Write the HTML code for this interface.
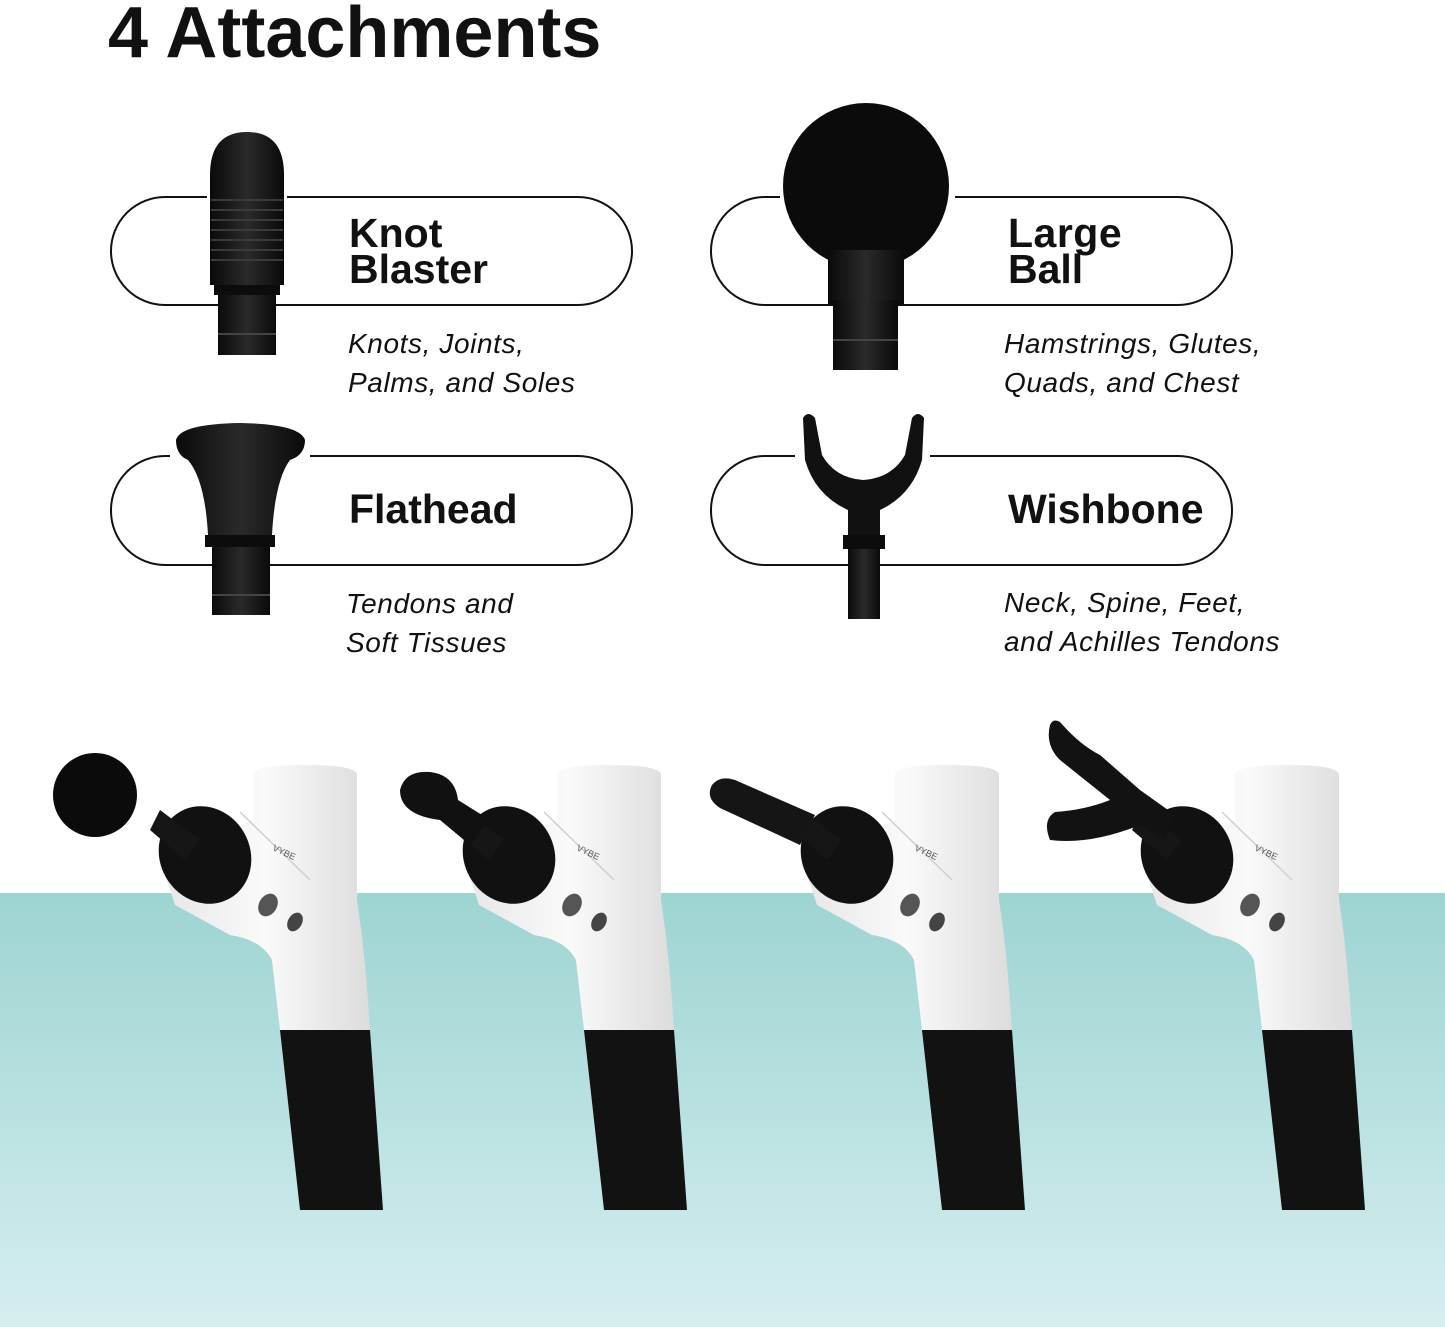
<!DOCTYPE html>
<html><head><meta charset="utf-8"><style>
html,body{margin:0;padding:0;background:#fff;}
svg{display:block}
.t{font-family:"Liberation Sans",sans-serif;font-weight:bold;fill:#111}
.i{font-family:"Liberation Sans",sans-serif;font-style:italic;fill:#111;font-size:28px;letter-spacing:0.6px}
</style></head><body>
<svg width="1445" height="1327" viewBox="0 0 1445 1327" xmlns="http://www.w3.org/2000/svg">
<defs>
<linearGradient id="teal" x1="0" y1="0" x2="0" y2="1">
<stop offset="0" stop-color="#9dd4d2"/><stop offset="1" stop-color="#d6eeef"/></linearGradient>
<linearGradient id="blk" x1="0" y1="0" x2="1" y2="0">
<stop offset="0" stop-color="#0a0a0a"/><stop offset="0.5" stop-color="#2a2a2a"/><stop offset="1" stop-color="#0a0a0a"/></linearGradient>
<linearGradient id="wht" x1="0" y1="0" x2="1" y2="0">
<stop offset="0" stop-color="#e6e6e6"/><stop offset="0.5" stop-color="#fafafa"/><stop offset="1" stop-color="#dcdcdc"/></linearGradient>
<g id="gun">
<path d="M253,775 Q253,765 305,765 Q357,765 357,775 L357,900 Q365,950 370,1030 L280,1030 L272,960 Q262,940 230,935 L175,905 L160,860 L253,820 Z" fill="url(#wht)"/>
<path d="M280,1030 L370,1030 L383,1210 L300,1210 Z" fill="#121212"/>
<ellipse cx="268" cy="905" rx="9" ry="12" fill="#555" transform="rotate(30 268 905)"/>
<ellipse cx="295" cy="922" rx="7" ry="10" fill="#444" transform="rotate(30 295 922)"/>
<path d="M240,812 L310,880" stroke="#cfcfcf" stroke-width="1.5"/>
<ellipse cx="205" cy="855" rx="45" ry="50" fill="#111" transform="rotate(-30 205 855)"/>
<path d="M160,810 L200,840 L185,860 L150,830Z" fill="#161616"/>
<text x="272" y="850" font-family="Liberation Sans,sans-serif" font-size="9" fill="#555" transform="rotate(25 272 850)">VYBE</text>
</g>
</defs>
<rect x="0" y="893" width="1445" height="434" fill="url(#teal)"/>

<text class="t" x="108" y="57" font-size="72" letter-spacing="0">4 Attachments</text>

<rect x="111" y="197" width="521" height="108" rx="54" fill="none" stroke="#111" stroke-width="2"/>
<rect x="111" y="456" width="521" height="109" rx="54" fill="none" stroke="#111" stroke-width="2"/>
<rect x="711" y="197" width="521" height="108" rx="54" fill="none" stroke="#111" stroke-width="2"/>
<rect x="711" y="456" width="521" height="109" rx="54" fill="none" stroke="#111" stroke-width="2"/>

<!-- knot blaster -->
<rect x="207" y="185" width="80" height="20" fill="#fff"/>
<path d="M210,175 Q210,132 247,132 Q284,132 284,175 L284,285 L210,285 Z" fill="url(#blk)"/>
<g stroke="#3a3a3a" stroke-width="2"><line x1="211" y1="200" x2="283" y2="200"/><line x1="211" y1="210" x2="283" y2="210"/><line x1="211" y1="220" x2="283" y2="220"/><line x1="211" y1="230" x2="283" y2="230"/><line x1="211" y1="240" x2="283" y2="240"/><line x1="211" y1="250" x2="283" y2="250"/><line x1="211" y1="260" x2="283" y2="260"/></g>
<rect x="214" y="285" width="66" height="10" fill="#0c0c0c"/>
<rect x="218" y="295" width="58" height="60" fill="url(#blk)"/>
<line x1="218" y1="334" x2="276" y2="334" stroke="#444" stroke-width="2"/>

<!-- flathead -->
<rect x="170" y="440" width="140" height="25" fill="#fff"/>
<path d="M176,440 Q180,424 240,423 Q300,424 305,440 Q305,455 290,460 Q275,480 272,535 L208,535 Q205,480 188,460 Q176,455 176,440Z" fill="url(#blk)"/>
<rect x="205" y="535" width="70" height="12" fill="#0c0c0c"/>
<rect x="212" y="547" width="58" height="68" fill="url(#blk)"/>
<line x1="212" y1="595" x2="270" y2="595" stroke="#444" stroke-width="2"/>

<!-- large ball -->
<rect x="780" y="185" width="175" height="20" fill="#fff"/>
<circle cx="866" cy="186" r="83" fill="#0b0b0b"/>
<rect x="828" y="250" width="76" height="55" fill="url(#blk)"/>
<rect x="833" y="300" width="65" height="70" fill="url(#blk)"/>
<line x1="833" y1="340" x2="898" y2="340" stroke="#444" stroke-width="2"/>

<!-- wishbone -->
<rect x="795" y="445" width="135" height="20" fill="#fff"/>
<path d="M803,418 Q808,410 815,418 L822,455 Q835,478 863,480 Q892,478 905,455 L912,418 Q918,410 924,418 L922,460 Q912,495 880,510 L880,540 L848,540 L848,510 Q815,495 805,460 Z" fill="#111"/>
<rect x="843" y="535" width="42" height="14" fill="#0c0c0c"/>
<rect x="848" y="549" width="32" height="70" fill="url(#blk)"/>

<text class="t" x="349" y="247" font-size="41" letter-spacing="0">Knot</text>
<text class="t" x="349" y="283" font-size="41" letter-spacing="0">Blaster</text>
<text class="t" x="1008" y="247" font-size="41" letter-spacing="0.5">Large</text>
<text class="t" x="1008" y="283" font-size="41" letter-spacing="0">Ball</text>
<text class="t" x="349" y="523" font-size="41" letter-spacing="0">Flathead</text>
<text class="t" x="1008" y="523" font-size="41" letter-spacing="0">Wishbone</text>

<text class="i" x="348" y="353">Knots, Joints,</text>
<text class="i" x="348" y="392">Palms, and Soles</text>
<text class="i" x="1004" y="353">Hamstrings, Glutes,</text>
<text class="i" x="1004" y="392">Quads, and Chest</text>
<text class="i" x="346" y="613">Tendons and</text>
<text class="i" x="346" y="652">Soft Tissues</text>
<text class="i" x="1004" y="612">Neck, Spine, Feet,</text>
<text class="i" x="1004" y="651">and Achilles Tendons</text>

<!-- guns -->
<use href="#gun"/>
<circle cx="95" cy="795" r="42" fill="#0b0b0b"/>
<use href="#gun" transform="translate(304,0)"/>
<path d="M400,790 Q405,770 430,772 Q455,775 458,800 L490,820 L470,845 L440,820 Q400,815 400,790Z" fill="#111"/>
<use href="#gun" transform="translate(642,0)"/>
<path d="M712,785 Q705,798 720,808 L800,845 L815,815 L735,780 Q720,775 712,785Z" fill="#151515"/>
<use href="#gun" transform="translate(982,0)"/>
<path d="M1050,725 Q1045,745 1060,760 L1110,800 Q1085,810 1055,812 Q1042,820 1050,840 Q1090,845 1140,825 L1165,840 L1175,815 L1140,790 L1100,755 Q1080,745 1060,722 Q1053,718 1050,725Z" fill="#121212"/>
</svg>
</body></html>
